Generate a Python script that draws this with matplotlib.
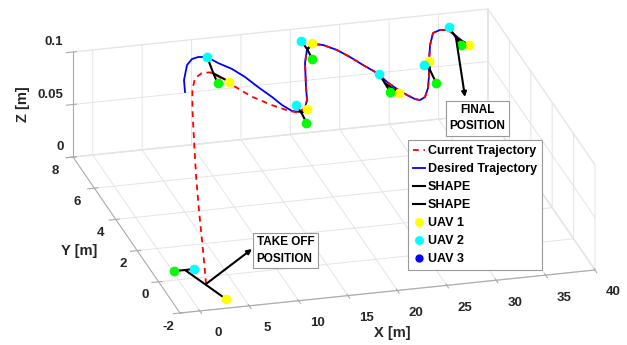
import matplotlib
matplotlib.use('Agg')
import matplotlib.pyplot as plt
import numpy as np
from mpl_toolkits.mplot3d import proj3d
from matplotlib.lines import Line2D

plt.rcParams['font.family'] = ['Liberation Sans', 'DejaVu Sans']
plt.rcParams['font.weight'] = 'bold'
plt.rcParams['axes.labelweight'] = 'bold'
plt.rcParams['grid.color'] = '#e4e4e4'
plt.rcParams['grid.linewidth'] = 0.7

# ---------------- data ----------------
path_height = 0.09

# desired trajectory (blue)
des_x = [6.67, 7.35, 8.61, 9.47, 10.17, 11.02, 11.67, 12.60, 13.31, 13.89, 14.57, 14.99, 15.55, 16.24,
         16.97, 17.68, 18.43, 19.89, 20.92, 21.88, 22.76, 23.75, 24.53, 25.24, 26.04, 26.41, 26.90, 27.45,
         27.95, 28.36, 29.02, 29.89, 30.83, 31.67, 32.87, 33.93, 34.78, 35.54, 35.88, 36.15]
des_y = [5.54, 6.26, 7.14, 7.47, 7.55, 7.50, 7.07, 6.63, 6.07, 5.39, 4.70, 4.16, 3.74, 3.63,
         3.84, 4.30, 5.09, 6.53, 7.30, 7.62, 7.50, 7.11, 6.61, 6.05, 5.49, 4.89, 4.40, 3.98,
         3.69, 3.60, 3.75, 4.27, 5.04, 5.82, 6.83, 7.53, 7.67, 7.62, 7.28, 6.87]

# current trajectory (red dashed): take-off climb, then following the path
cur_x = [2.34, 3.18, 4.13, 5.01, 5.99, 6.84, 7.49, 8.50, 9.46, 10.31, 11.03, 11.74, 12.67, 14.02, 15.22, 16.03,
         16.97, 17.68, 18.43, 19.89, 20.92, 21.88, 22.76, 23.75, 24.53, 25.24, 26.04, 26.41, 26.90, 27.45,
         27.95, 28.36, 29.02, 29.89, 30.83, 31.67, 32.87, 33.93, 34.78, 35.54, 35.88, 36.15]
cur_y = [-0.43, 0.64, 1.89, 2.98, 4.07, 5.00, 5.61, 6.30, 6.56, 6.56, 6.13, 5.55, 4.85, 4.22, 3.78, 3.60,
         3.84, 4.30, 5.09, 6.53, 7.30, 7.62, 7.50, 7.11, 6.61, 6.05, 5.49, 4.89, 4.40, 3.98,
         3.69, 3.60, 3.75, 4.27, 5.04, 5.82, 6.83, 7.53, 7.67, 7.62, 7.28, 6.87]
cur_z = [0.0, 0.0158, 0.0343, 0.0506, 0.0668, 0.0807, 0.09, 0.09, 0.09, 0.09, 0.09, 0.09, 0.09, 0.09, 0.09, 0.09,
         0.09, 0.09, 0.09, 0.09, 0.09, 0.09, 0.09, 0.09, 0.09, 0.09, 0.09, 0.09, 0.09, 0.09,
         0.09, 0.09, 0.09, 0.09, 0.09, 0.09, 0.09, 0.09, 0.09, 0.09, 0.09, 0.09]

# formation snapshots (take-off + 6 along the path)
form_z = [0.0, 0.09, 0.09, 0.09, 0.09, 0.09, 0.09]
uav1_x = [3.25, 11.52, 17.14, 21.86, 26.85, 31.76, 36.58]
uav1_y = [-1.45, 5.88, 3.76, 7.67, 4.17, 5.88, 6.59]
uav2_x = [2.17, 11.03, 16.32, 20.96, 26.17, 31.03, 35.81]
uav2_y = [0.55, 7.48, 4.07, 7.89, 5.41, 5.67, 7.77]
uav3_x = [0.16, 10.32, 16.16, 20.84, 26.06, 30.99, 35.77]
uav3_y = [0.55, 5.86, 2.95, 6.73, 4.29, 4.54, 6.64]
hub_x = [1.26, 10.56, 16.32, 20.99, 26.13, 31.25, 35.80]
hub_y = [0.54, 6.48, 3.56, 7.34, 4.82, 5.34, 7.11]

x_ticks = [0, 5, 10, 15, 20, 25, 30, 35, 40]
y_ticks = [-2, 0, 2, 4, 6, 8]
z_ticks = [0, 0.05, 0.1]
x_tick_labels = ['0', '5', '10', '15', '20', '25', '30', '35', '40']
y_tick_labels = ['-2', '0', '2', '4', '6', '8']
z_tick_labels = ['0', '0.05', '0.1']

# ---------------- figure ----------------
W, H = 627, 345
TXT = '#262626'
MS = 6
fig = plt.figure(figsize=(W / 100, H / 100), dpi=100)
ax = fig.add_axes([0, 0, 1, 1], projection='3d', computed_zorder=False)
ax.set_proj_type('ortho')
ax.view_init(elev=22.87, azim=-104.93)
ax.set_box_aspect((429.5, 415.4, 114.0))
ax.set_xlim(-2, 40)
ax.set_ylim(-2, 8)
ax.set_zlim(0, 0.1)

for a in (ax.xaxis, ax.yaxis, ax.zaxis):
    a.pane.fill = False
    a.pane.set_edgecolor('#e4e4e4')
    a.line.set_color('#aaaaaa')
    a.line.set_linewidth(0.8)

ax.set_xticks(x_ticks)
ax.set_yticks(y_ticks)
ax.set_zticks(z_ticks)
ax.set_xticklabels([''] * len(x_ticks))
ax.set_yticklabels([''] * len(y_ticks))
ax.set_zticklabels([''] * len(z_ticks))
ax.tick_params(axis='both', colors='#aaaaaa')

# trajectories
l_des, = ax.plot(des_x, des_y, path_height, color='#0000ff', lw=1.3)
l_cur, = ax.plot(cur_x, cur_y, cur_z, color='#ff0000', lw=1.3, ls=(0, (3.2, 2.6)))

# formation shapes
l_s1 = None
l_s2 = None
for i in range(len(hub_x)):
    a1, = ax.plot([uav1_x[i], hub_x[i], uav2_x[i]], [uav1_y[i], hub_y[i], uav2_y[i]],
                  [form_z[i]] * 3, color='k', lw=1.5)
    a2, = ax.plot([hub_x[i], uav3_x[i]], [hub_y[i], uav3_y[i]], [form_z[i]] * 2, color='k', lw=1.5)
    l_s1, l_s2 = a1, a2

m1, = ax.plot(uav1_x, uav1_y, form_z, ls='none', marker='o', ms=MS, mfc='#ffff00', mec='#ffff00')
m2, = ax.plot(uav2_x, uav2_y, form_z, ls='none', marker='o', ms=MS, mfc='#00ffff', mec='#00ffff')
m3, = ax.plot(uav3_x, uav3_y, form_z, ls='none', marker='o', ms=MS, mfc='#00ff00', mec='#00ff00')

# fit the projected box onto the reference pixel frame
fig.canvas.draw()
M = ax.get_proj()
cx = np.array([-2, 40, -2, -2], float)
cy = np.array([-2, -2, 8, 8], float)
cz = np.array([0, 0, 0, 0.1], float)
px, py, _ = proj3d.proj_transform(cx, cy, cz, M)
cur = ax.transData.transform(np.column_stack([px, py]))
tgt = np.array([[180, H - 313], [595, H - 270], [73, H - 157], [73, H - 52]], float)
cm, tm = cur.mean(0), tgt.mean(0)
s = np.sum((cur - cm) * (tgt - tm)) / np.sum((cur - cm) ** 2)
T = tm - s * cm
pos = ax.get_position()
x0, y0, w, h = pos.x0 * W, pos.y0 * H, pos.width * W, pos.height * H
ax.set_position([(s * x0 + T[0]) / W, (s * y0 + T[1]) / H, s * w / W, s * h / H])


def to_img(xs, ys, zs):
    """project data points to image pixel coordinates (origin top-left)"""
    p2x, p2y, _ = proj3d.proj_transform(np.asarray(xs, float), np.asarray(ys, float),
                                        np.asarray(zs, float), ax.get_proj())
    d = ax.transData.transform(np.column_stack([p2x, p2y]))
    return d[:, 0], H - d[:, 1]


# overlay in image pixel coordinates for texts and annotations
ov = fig.add_axes([0, 0, 1, 1])
ov.set_xlim(0, W)
ov.set_ylim(H, 0)
ov.axis('off')
ov.patch.set_alpha(0)

# tick labels placed next to the projected tick positions
tx, ty = to_img(x_ticks, [-2] * len(x_ticks), [0] * len(x_ticks))
for u, v, lab in zip(tx, ty, x_tick_labels):
    ov.text(u + 18.5, v + 22.5, lab, ha='center', va='center', fontsize=9.5, color=TXT)
tx, ty = to_img([-2] * len(y_ticks), y_ticks, [0] * len(y_ticks))
for u, v, lab, yv in zip(tx, ty, y_tick_labels, y_ticks):
    ov.text(u - 12 - 0.6 * (yv + 2), v + 13.5, lab, ha='center', va='center', fontsize=9.5, color=TXT)
tx, ty = to_img([-2] * len(z_ticks), [8] * len(z_ticks), z_ticks)
for u, v, lab in zip(tx, ty, z_tick_labels):
    ov.text(u - 9.5, v - 10, lab, ha='right', va='center', fontsize=9.5, color=TXT)

ov.text(392, 333, 'X [m]', ha='center', va='center', fontsize=10.5, color=TXT)
ov.text(79, 251, 'Y [m]', ha='center', va='center', fontsize=10.5, color=TXT)
ov.text(23.5, 104.5, 'Z [m]', ha='center', va='center', fontsize=10.5, color=TXT, rotation=90)

box = dict(boxstyle='square,pad=0.3', fc='white', ec='#999999', lw=0.8)
ov.text(285.5, 250.5, 'TAKE OFF\nPOSITION', ha='center', va='center', multialignment='left',
        fontsize=8.5, linespacing=1.45, bbox=box, color='k')
ov.text(477.3, 118.3, 'FINAL\nPOSITION', ha='center', va='center', multialignment='center',
        fontsize=8.5, linespacing=1.45, bbox=box, color='k')
ap = dict(arrowstyle='-|>', lw=1.5, color='k', mutation_scale=7, shrinkA=0, shrinkB=0)
ov.annotate('', xy=(252, 249), xytext=(206, 284), arrowprops=ap)
ov.annotate('', xy=(465, 97), xytext=(456, 38), arrowprops=ap)

uav3_handle = Line2D([], [], ls='none', marker='o', ms=5.5, mfc='#0000ff', mec='#0000ff')
leg = ov.legend([l_cur, l_des, l_s1, l_s2, m1, m2, uav3_handle],
                ['Current Trajectory', 'Desired Trajectory', 'SHAPE', 'SHAPE', 'UAV 1', 'UAV 2', 'UAV 3'],
                loc='upper left', bbox_to_anchor=(408 / W, 1 - 140 / H), bbox_transform=fig.transFigure,
                fontsize=9, frameon=True, fancybox=False, edgecolor='#999999', framealpha=1,
                handlelength=1.0, handletextpad=0.2, labelspacing=0.48, borderpad=0.4, borderaxespad=0,
                markerscale=0.9)
leg.get_frame().set_linewidth(0.8)

fig.savefig('out.png', dpi=100)
